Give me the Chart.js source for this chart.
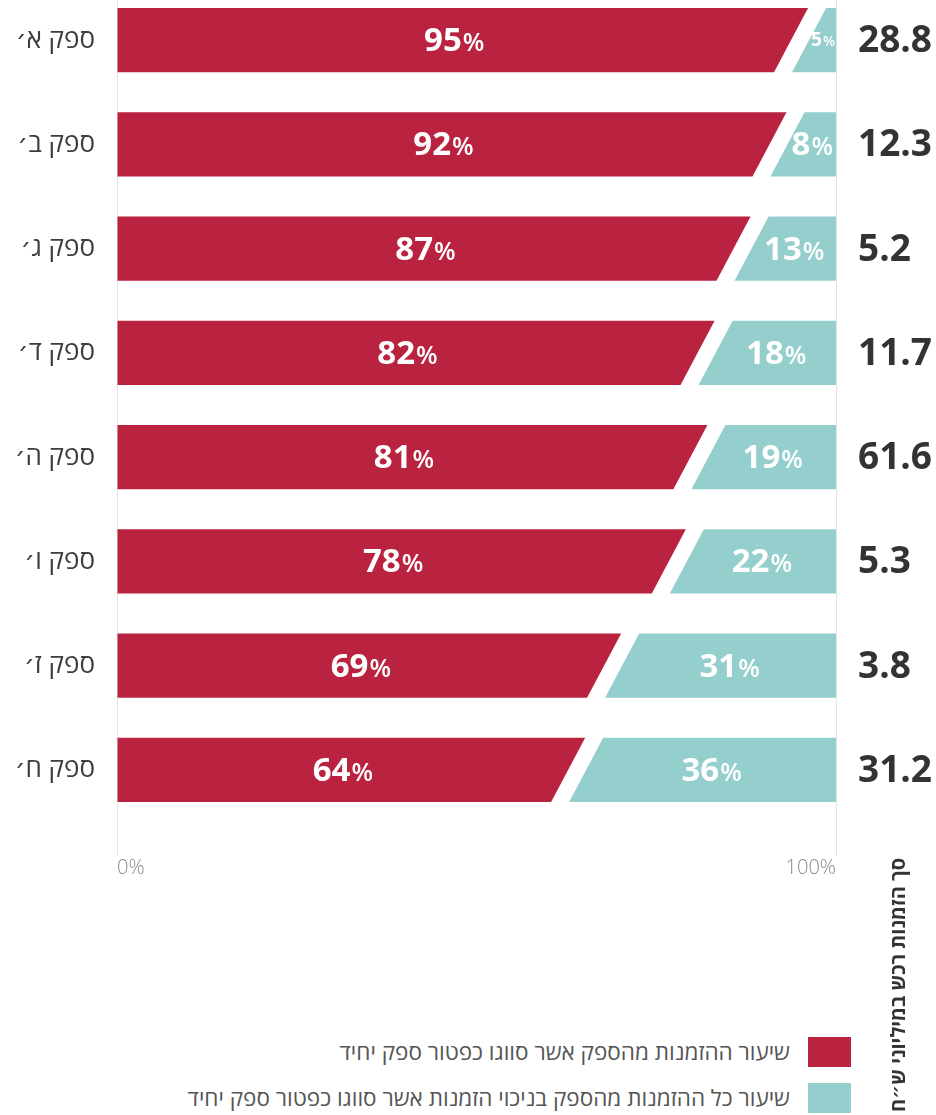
<!DOCTYPE html>
<html lang="he">
<head>
<meta charset="utf-8">
<script src="https://cdn.jsdelivr.net/npm/chart.js@4.4.1/dist/chart.umd.min.js"></script>
<style>
  body { margin: 0; width: 936px; height: 1115px; position: relative; overflow: hidden; background: #fff;
         font-family: "Open Sans", "DejaVu Sans", sans-serif; }
  #wrap { position: absolute; left: 0; top: -12px; width: 936px; height: 894px; }
  .box { position: absolute; left: 808px; width: 43px; height: 30px; }
  .txt { position: absolute; right: 146px; height: 30px; line-height: 30px; font-size: 22.5px; color: #555;
         direction: rtl; white-space: nowrap; }
  #title { position: absolute; left: 763px; top: 970px; width: 270px; height: 30px; line-height: 30px;
           font-size: 20px; font-weight: bold; color: #333; text-align: center; direction: rtl;
           white-space: nowrap; transform: rotate(-90deg); }
</style>
</head>
<body>
<div id="wrap"><canvas id="chart" width="936" height="894"></canvas></div>
<div id="legend"></div>
<div id="title"></div>
<script>
var suppliers = ['ספק א׳', 'ספק ב׳', 'ספק ג׳', 'ספק ד׳', 'ספק ה׳', 'ספק ו׳', 'ספק ז׳', 'ספק ח׳'];
var singleShare = [95, 92, 87, 82, 81, 78, 69, 64];
var otherShare = [5, 8, 13, 18, 19, 22, 31, 36];
var totalOrders = [28.8, 12.3, 5.2, 11.7, 61.6, 5.3, 3.8, 31.2];
var axisTicks = [0, 100];
var seriesNames = ['שיעור ההזמנות מהספק אשר סווגו כפטור ספק יחיד',
                   'שיעור כל ההזמנות מהספק בניכוי הזמנות אשר סווגו כפטור ספק יחיד'];
var totalTitle = 'סך הזמנות רכש במיליוני ש״ח';

var red = '#BA2340';
var teal = '#95CFCD';
var fontFamily = '"Open Sans", "DejaVu Sans", sans-serif';

// legend + side title as page text
var legend = document.getElementById('legend');
[red, teal].forEach(function(c, i) {
  var top = 1037 + i * 46;
  var box = document.createElement('div');
  box.className = 'box';
  box.style.top = top + 'px';
  box.style.background = c;
  var txt = document.createElement('div');
  txt.className = 'txt';
  txt.style.top = top + 'px';
  txt.textContent = seriesNames[i];
  legend.appendChild(box);
  legend.appendChild(txt);
});
document.getElementById('title').textContent = totalTitle;

// number in bold + smaller %, shrunk if the segment is narrow
function drawPct(ctx, value, left, right, y) {
  var num = String(value);
  var maxW = right - left;
  var size = 33;
  var w1, w2;
  for (;;) {
    ctx.font = 'bold ' + size + 'px ' + fontFamily;
    w1 = ctx.measureText(num).width;
    ctx.font = '600 ' + Math.round(size * 0.75) + 'px ' + fontFamily;
    w2 = ctx.measureText('%').width;
    if (w1 + w2 + 1 <= maxW || size <= 19) break;
    size--;
  }
  var w = w1 + w2 + 1;
  var x = Math.min((left + right) / 2 - w / 2, right - w);
  ctx.fillStyle = '#fff';
  ctx.textAlign = 'left';
  ctx.textBaseline = 'alphabetic';
  ctx.font = 'bold ' + size + 'px ' + fontFamily;
  ctx.fillText(num, x, y + size * 0.33);
  ctx.font = '600 ' + Math.round(size * 0.75) + 'px ' + fontFamily;
  ctx.fillText('%', x + w1 + 1, y + size * 0.33);
}

// slanted cut between the two parts, value labels and totals on the right
var slantPlugin = {
  id: 'slant',
  afterDatasetsDraw: function(chart) {
    var ctx = chart.ctx;
    var redBars = chart.getDatasetMeta(0).data;
    var tealBars = chart.getDatasetMeta(1).data;
    var right = chart.scales.x.right;
    ctx.save();
    redBars.forEach(function(bar, i) {
      var xb = bar.x;
      var h = bar.height;
      var top = bar.y - h / 2;
      var bottom = bar.y + h / 2;
      var s = h * 0.266;
      var g = 9;
      var end = tealBars[i].x;
      var x0 = Math.floor(Math.max(bar.base, xb - s - g - 1));
      var x1 = Math.ceil(Math.min(end, xb + s + g + 1));

      ctx.fillStyle = '#fff';
      ctx.fillRect(x0, top - 1, x1 - x0, h + 2);
      ctx.fillStyle = red;
      ctx.beginPath();
      ctx.moveTo(x0, top);
      ctx.lineTo(xb + s - g, top);
      ctx.lineTo(xb - s - g, bottom);
      ctx.lineTo(x0, bottom);
      ctx.closePath();
      ctx.fill();
      ctx.fillStyle = teal;
      ctx.beginPath();
      ctx.moveTo(xb + s + g, top);
      ctx.lineTo(x1, top);
      ctx.lineTo(x1, bottom);
      ctx.lineTo(xb - s + g, bottom);
      ctx.closePath();
      ctx.fill();

      drawPct(ctx, singleShare[i], bar.base + 3, xb - g - 3, bar.y);
      drawPct(ctx, otherShare[i], xb + g + 2, end - 1, bar.y);

      ctx.fillStyle = '#333';
      ctx.font = 'bold 37px ' + fontFamily;
      ctx.textAlign = 'left';
      ctx.textBaseline = 'alphabetic';
      ctx.fillText(totalOrders[i].toFixed(1), right + 22, bar.y + 12);
    });
    ctx.restore();
  }
};

var chart = new Chart(document.getElementById('chart'), {
  type: 'bar',
  data: {
    labels: suppliers,
    datasets: [{
      label: seriesNames[0],
      data: singleShare,
      backgroundColor: red,
      borderWidth: 0,
      barPercentage: 1,
      categoryPercentage: 0.614
    }, {
      label: seriesNames[1],
      data: otherShare,
      backgroundColor: teal,
      borderWidth: 0,
      barPercentage: 1,
      categoryPercentage: 0.614
    }]
  },
  options: {
    indexAxis: 'y',
    responsive: false,
    animation: false,
    layout: { padding: { left: 0, right: 100, top: 0, bottom: 0 } },
    plugins: {
      legend: { display: false },
      tooltip: { enabled: false }
    },
    scales: {
      x: {
        stacked: true,
        min: 0,
        max: 100,
        afterBuildTicks: function(scale) {
          scale.ticks = axisTicks.map(function(v) { return { value: v }; });
        },
        afterFit: function(scale) {
          scale.height = 60;
          scale.paddingLeft = 0;
          scale.paddingRight = 0;
        },
        border: { display: false },
        grid: { color: '#e2e2e2', lineWidth: 1, tickLength: 33 },
        ticks: {
          align: 'inner',
          padding: 1,
          color: '#8a8a8a',
          font: { family: fontFamily, size: 20, weight: '300' },
          callback: function(v) { return v + '%'; }
        }
      },
      y: {
        stacked: true,
        afterFit: function(scale) {
          scale.width = 117;
          scale.paddingTop = 0;
          scale.paddingBottom = 0;
        },
        border: { display: false },
        grid: { display: false },
        ticks: {
          padding: 14,
          color: '#3d3d3d',
          font: { family: fontFamily, size: 26 }
        }
      }
    }
  },
  plugins: [slantPlugin]
});
</script>
</body>
</html>
